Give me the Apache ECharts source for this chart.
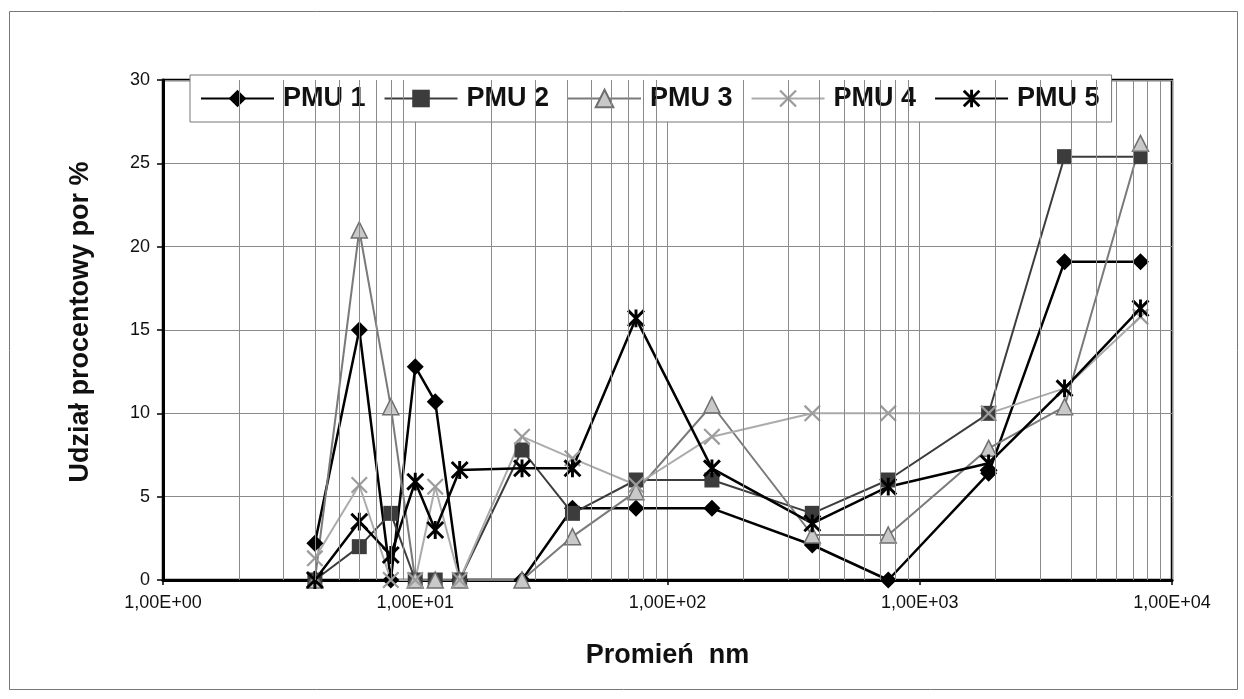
<!DOCTYPE html>
<html>
<head>
<meta charset="utf-8">
<style>
  html, body { margin: 0; padding: 0; background: #fff; }
  #chart { width: 1244px; height: 699px; }
</style>
<script src="https://cdn.jsdelivr.net/npm/echarts@6/dist/echarts.min.js"></script>
</head>
<body>
<div id="chart"></div>
<script>
// Particle radius classes (nm), shared by every series
const radius = [4, 6, 8, 10, 12, 15, 26.5, 42, 75, 150, 375, 750, 1875, 3750, 7500];

// Percentage share of pores in each radius class
const pmu1 = [2.2, 15.0, 0, 12.8, 10.7, 0, 0, 4.3, 4.3, 4.3, 2.1, 0, 6.4, 19.1, 19.1];
const pmu2 = [0, 2.0, 4.0, 0, 0, 0, 7.8, 4.0, 6.0, 6.0, 4.0, 6.0, 10.0, 25.4, 25.4];
const pmu3 = [0, 21.0, 10.4, 0, 0, 0, 0, 2.6, 5.3, 10.5, 2.7, 2.7, 7.9, 10.4, 26.2];
const pmu4 = [1.3, 5.7, 0, 0, 5.6, 0, 8.6, 7.3, 5.7, 8.6, 10.0, 10.0, 10.0, 11.5, 15.8];
const pmu5 = [0, 3.5, 1.5, 5.9, 3.0, 6.6, 6.7, 6.7, 15.7, 6.7, 3.4, 5.6, 7.0, 11.5, 16.3];

const seriesNames = ['PMU 1', 'PMU 2', 'PMU 3', 'PMU 4', 'PMU 5'];
const yTicks = { min: 0, max: 30, step: 5 };
const xDecades = [1, 10, 100, 1000, 10000];

const FONT = '"Liberation Sans", Arial, sans-serif';

// Filled path made of rotated bars (for the cross and star markers)
function barsPath(bars) {
  const c = 12;
  const parts = bars.map(([deg, half, th]) => {
    const a = deg * Math.PI / 180;
    const ux = Math.cos(a), uy = Math.sin(a);
    const nx = -uy, ny = ux;
    const t = th / 2;
    const pts = [
      [c + ux * half + nx * t, c + uy * half + ny * t],
      [c - ux * half + nx * t, c - uy * half + ny * t],
      [c - ux * half - nx * t, c - uy * half - ny * t],
      [c + ux * half - nx * t, c + uy * half - ny * t]
    ];
    return 'M' + pts.map(p => p[0].toFixed(3) + ' ' + p[1].toFixed(3)).join(' L') + ' Z';
  });
  return 'path://' + parts.join(' ');
}
const crossSymbol = barsPath([[45, 10, 2.0], [135, 10, 2.0]]);
const starSymbol = barsPath([[45, 10, 2.6], [135, 10, 2.6], [90, 7.9, 2.6]]);

function pairs(vals) { return radius.map((r, i) => [r, vals[i]]); }

// Minor log gridlines at 2..9 times each decade
const minorLines = [];
for (const d of xDecades.slice(0, -1)) {
  for (let m = 2; m <= 9; m++) minorLines.push({ xAxis: m * d });
}

const chart = echarts.init(document.getElementById('chart'), null, { renderer: 'canvas' });

chart.setOption({
  animation: false,
  backgroundColor: '#fff',
  textStyle: { fontFamily: FONT },
  graphic: [{
    type: 'rect',
    z: -10,
    shape: { x: 9.5, y: 11.5, width: 1228, height: 678 },
    style: { fill: 'none', stroke: '#777', lineWidth: 1 }
  }],
  grid: {
    left: 163, right: 72, top: 80, bottom: 119,
    show: true, borderColor: '#000', borderWidth: 2.5, backgroundColor: 'transparent'
  },
  legend: {
    data: seriesNames,
    left: 190, top: 75,
    padding: [10, 12, 10, 10],
    backgroundColor: '#fff',
    borderColor: '#777',
    borderWidth: 1,
    itemWidth: 73,
    itemHeight: 22,
    itemGap: 18,
    textStyle: { fontSize: 27, fontWeight: 'bold', color: '#111', fontFamily: FONT, padding: [0, 0, 0, 4] }
  },
  xAxis: {
    type: 'log',
    logBase: 10,
    min: 1,
    max: 10000,
    name: 'Promień  nm',
    nameLocation: 'middle',
    nameGap: 62,
    nameTextStyle: { fontSize: 27, fontWeight: 'bold', color: '#111', fontFamily: FONT },
    axisLine: { lineStyle: { color: '#000', width: 3 } },
    axisTick: { show: true, length: 5, lineStyle: { color: '#000', width: 1.5 } },
    axisLabel: {
      fontSize: 18, color: '#111', margin: 14, fontFamily: FONT,
      formatter: v => '1,00E+' + String(Math.round(Math.log10(v))).padStart(2, '0')
    },
    splitLine: { show: true, lineStyle: { color: '#8a8a8a', width: 1 } }
  },
  yAxis: {
    type: 'value',
    min: yTicks.min,
    max: yTicks.max,
    interval: yTicks.step,
    name: 'Udział procentowy por %',
    nameLocation: 'middle',
    nameGap: 69,
    nameRotate: 90,
    nameTextStyle: { fontSize: 27, fontWeight: 'bold', color: '#111', fontFamily: FONT, padding: [0, 0, 0, 16] },
    axisLine: { show: true, lineStyle: { color: '#000', width: 3 } },
    axisTick: { show: true, length: 6, lineStyle: { color: '#000', width: 1.5 } },
    axisLabel: { fontSize: 18, color: '#111', margin: 13, fontFamily: FONT },
    splitLine: { show: true, lineStyle: { color: '#8a8a8a', width: 1 } }
  },
  series: [
    {
      name: 'minor-grid',
      type: 'line',
      data: [],
      silent: true,
      z: 1,
      markLine: {
        silent: true,
        symbol: 'none',
        label: { show: false },
        lineStyle: { color: '#8a8a8a', width: 1, type: 'solid' },
        data: minorLines
      }
    },
    {
      name: 'PMU 1', type: 'line', data: pairs(pmu1), z: 3,
      symbol: 'diamond', symbolSize: 17,
      lineStyle: { color: '#000', width: 2.5 },
      itemStyle: { color: '#000' }
    },
    {
      name: 'PMU 2', type: 'line', data: pairs(pmu2), z: 3,
      symbol: 'rect', symbolSize: 15,
      lineStyle: { color: '#3c3c3c', width: 2 },
      itemStyle: { color: '#3c3c3c' }
    },
    {
      name: 'PMU 3', type: 'line', data: pairs(pmu3), z: 3,
      symbol: 'triangle', symbolSize: 16,
      lineStyle: { color: '#7a7a7a', width: 2 },
      itemStyle: { color: '#c9c9c9', borderColor: '#6e6e6e', borderWidth: 1.5 }
    },
    {
      name: 'PMU 4', type: 'line', data: pairs(pmu4), z: 3,
      symbol: crossSymbol, symbolSize: 17, symbolKeepAspect: true,
      lineStyle: { color: '#ababab', width: 2 },
      itemStyle: { color: '#9c9c9c' }
    },
    {
      name: 'PMU 5', type: 'line', data: pairs(pmu5), z: 3,
      symbol: starSymbol, symbolSize: 18, symbolKeepAspect: true,
      lineStyle: { color: '#000', width: 2.5 },
      itemStyle: { color: '#000' }
    }
  ]
});
</script>
</body>
</html>
